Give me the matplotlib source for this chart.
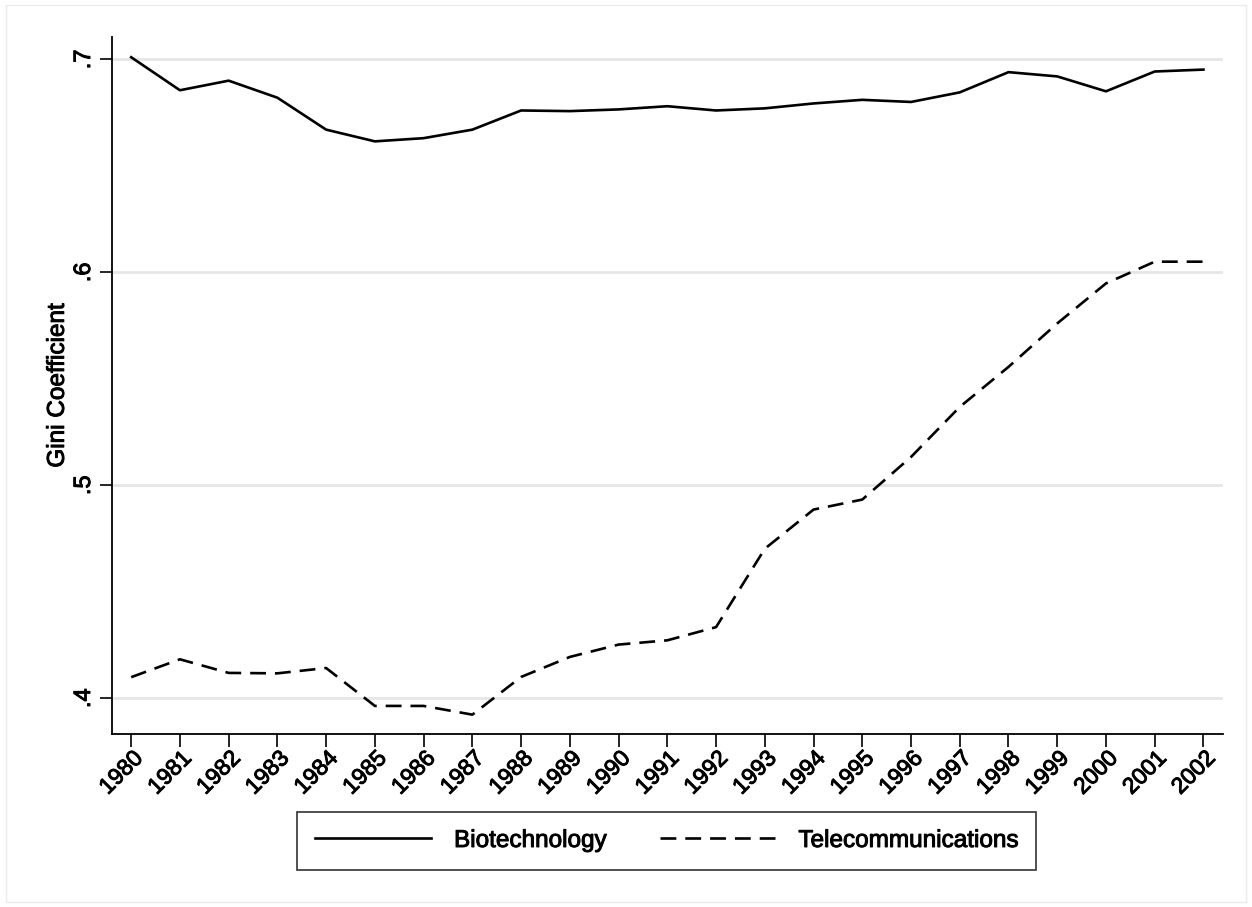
import matplotlib
matplotlib.use("Agg")
import matplotlib.pyplot as plt
import matplotlib.patheffects as pe
from matplotlib.patches import Rectangle

years = list(range(1980, 2003))
biotech = [0.701, 0.6855, 0.690, 0.682, 0.667, 0.6615, 0.663, 0.667, 0.676, 0.6757,
           0.6765, 0.678, 0.676, 0.677, 0.6793, 0.681, 0.680, 0.6845, 0.694, 0.692,
           0.685, 0.6943, 0.6952]
telecom = [0.4099, 0.4183, 0.4119, 0.4117, 0.4142, 0.3964, 0.3964, 0.3923, 0.410, 0.4194,
           0.4252, 0.4272, 0.4334, 0.4702, 0.4886, 0.4933, 0.5133, 0.5368, 0.5556, 0.576,
           0.5948, 0.605, 0.605]
yticks = [0.4, 0.5, 0.6, 0.7]
ytick_labels = [".4", ".5", ".6", ".7"]

plt.rcParams['font.family'] = ['Liberation Sans', 'DejaVu Sans']
# stata text looks heavier than plain arial
heavy = [pe.withStroke(linewidth=0.7, foreground="black")]

fig = plt.figure(figsize=(12.52, 9.07), dpi=100)
ax = fig.add_axes([0.0892, 0.1907, 0.8876, 0.7685])

ax.plot(years, biotech, color="black", lw=1.9, label="Biotechnology")
ax.plot(years, telecom, color="black", lw=1.9, dashes=(6, 3.4), label="Telecommunications")

ax.set_xlim(1979.6, 2002.4)
ax.set_ylim(0.3832, 0.7105)

ax.set_yticks(yticks)
ax.set_yticklabels(ytick_labels, rotation=90, va="center", fontsize=17)
ax.set_xticks(years)
ax.set_xticklabels([str(y) for y in years], rotation=45, ha="right",
                   rotation_mode="anchor", fontsize=16.5)
ax.tick_params(axis="both", length=9, width=1.2, color="black")
ax.tick_params(axis="x", pad=0)
ax.tick_params(axis="y", pad=3)

ax.grid(axis="y", color="#e6e6e6", lw=2)
ax.set_axisbelow(True)
for s in ["top", "right"]:
    ax.spines[s].set_visible(False)
for s in ["left", "bottom"]:
    ax.spines[s].set_linewidth(1.3)

ax.set_ylabel("Gini Coefficient", fontsize=17.5, labelpad=3)

leg = fig.legend(loc="center", bbox_to_anchor=(0.5325, 0.0728), ncol=2, fontsize=17.5,
                 handlelength=4.75, handletextpad=0.95, columnspacing=2.2,
                 frameon=True, fancybox=False, borderpad=0.75)
leg.get_frame().set_edgecolor("black")
leg.get_frame().set_linewidth(1.2)

for t in ax.get_xticklabels() + ax.get_yticklabels() + [ax.yaxis.label] + leg.get_texts():
    t.set_path_effects(heavy)

fig.patches.append(Rectangle((0.005, 0.006), 0.99, 0.988, transform=fig.transFigure,
                             fill=False, edgecolor="#ebebeb", lw=1))

fig.savefig("out.png", dpi=100)
